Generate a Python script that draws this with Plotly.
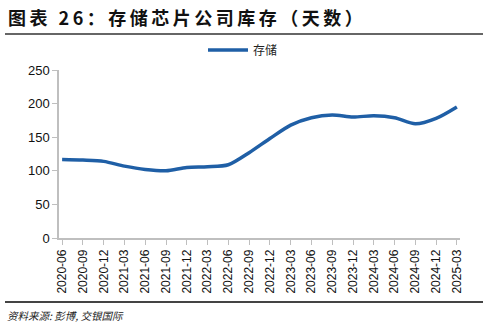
import plotly.graph_objects as go

categories = ["2020-06","2020-09","2020-12","2021-03","2021-06","2021-09","2021-12","2022-03",
              "2022-06","2022-09","2022-12","2023-03","2023-06","2023-09","2023-12","2024-03",
              "2024-06","2024-09","2024-12","2025-03"]
storage_days = [117,116,114,107,102,100,105,106,109,127,148,168,179,183,180,182,179,170,178,195]
y_ticks = [0, 50, 100, 150, 200, 250]

CJK = "Noto Sans CJK SC"
NUM = "Liberation Sans"

# plot area in pixels
L, R, T, B = 59, 460, 70, 238
W, H = 489, 326

def px_x(p):
    return (p - L) / (R - L)

def px_y(p):
    return (B - p) / (B - T)

fig = go.Figure()
fig.add_trace(go.Scatter(
    x=categories, y=storage_days, mode="lines", name="存储",
    line=dict(color="#1F5FA6", width=3.5, shape="spline", smoothing=0.8),
))

fig.update_layout(
    width=W, height=H,
    margin=dict(l=L, r=W - R, t=T, b=H - B),
    paper_bgcolor="white", plot_bgcolor="white",
    showlegend=True,
    legend=dict(orientation="h", x=px_x(243), xanchor="center", y=px_y(50), yanchor="middle",
                font=dict(family=CJK, size=12, color="#222"), itemwidth=40,
                bgcolor="rgba(0,0,0,0)"),
    xaxis=dict(type="category", range=[-0.15, 19.15], showgrid=False,
               showline=True, linecolor="#BFBFBF", linewidth=1.5,
               ticks="outside", ticklen=5, tickcolor="#BFBFBF",
               tickangle=-90, tickfont=dict(family=NUM, size=12, color="#111")),
    yaxis=dict(range=[0, 250], tickvals=y_ticks, showgrid=False,
               showline=True, linecolor="#BFBFBF", linewidth=1.5,
               ticks="outside", ticklen=5, tickcolor="#BFBFBF",
               tickfont=dict(family=NUM, size=13, color="#111")),
    font=dict(family=CJK),
)

fig.add_annotation(xref="paper", yref="paper", x=px_x(6), y=px_y(17),
                   xanchor="left", yanchor="middle", showarrow=False,
                   text='<span style="letter-spacing:3.5px"><b>图表 26：存储芯片公司库存（天数）</b></span>',
                   font=dict(family=CJK, size=18, color="#111"))
fig.add_annotation(xref="paper", yref="paper", x=px_x(5), y=px_y(315),
                   xanchor="left", yanchor="middle", showarrow=False,
                   text="<i>资料来源: 彭博, 交银国际</i>",
                   font=dict(family=CJK, size=10.5, color="#222"))

fig.add_shape(type="line", xref="paper", yref="paper",
              x0=px_x(5), x1=px_x(483), y0=px_y(34), y1=px_y(34),
              line=dict(color="#333", width=1.5))
fig.add_shape(type="line", xref="paper", yref="paper",
              x0=px_x(5), x1=px_x(483), y0=px_y(302), y1=px_y(302),
              line=dict(color="#444", width=2))

fig.write_html("out.html")
